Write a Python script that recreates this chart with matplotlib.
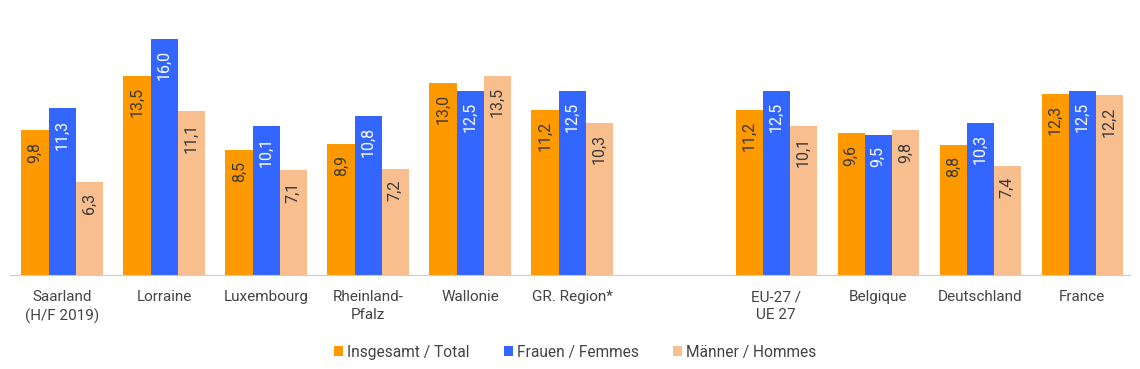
import numpy as np
import matplotlib.pyplot as plt

plt.rcParams['font.family'] = ['Roboto', 'DejaVu Sans']

# data
categories = ['Saarland\n(H/F 2019)', 'Lorraine', 'Luxembourg', 'Rheinland-\nPfalz', 'Wallonie',
              'GR. Region*', '', 'EU-27 /\nUE 27', 'Belgique', 'Deutschland', 'France']
total = [9.8, 13.5, 8.5, 8.9, 13.0, 11.2, None, 11.2, 9.6, 8.8, 12.3]
frauen = [11.3, 16.0, 10.1, 10.8, 12.5, 12.5, None, 12.5, 9.5, 10.3, 12.5]
maenner = [6.3, 11.1, 7.1, 7.2, 13.5, 10.3, None, 10.1, 9.8, 7.4, 12.2]
series_names = ['Insgesamt / Total', 'Frauen / Femmes', 'Männer / Hommes']
colors = ['#ff9900', '#3366ff', '#f9be8e']
label_colors = ['#3a3a3a', 'white', '#3a3a3a']

fig = plt.figure(figsize=(11.4, 3.69), dpi=100)
ax = fig.add_axes([10 / 1140, 94 / 369, 1120 / 1140, 236 / 369])

x = np.arange(len(categories))
w = 0.265
for k, vals in enumerate([total, frauen, maenner]):
    idx = [i for i, v in enumerate(vals) if v is not None]
    hv = [vals[i] for i in idx]
    pos = x[idx] + (k - 1) * w
    ax.bar(pos, hv, width=w, color=colors[k], label=series_names[k])
    for p, v in zip(pos, hv):
        ax.annotate(f'{v:.1f}'.replace('.', ','), (p, v), xytext=(0, -8),
                    textcoords='offset points', rotation=90, ha='center', va='top',
                    fontsize=11.5, color=label_colors[k])

ax.set_xlim(-0.51, 10.47)
ax.set_ylim(0, 16)
ax.set_xticks(x)
ax.set_xticklabels(categories, fontsize=11, color='#444444', linespacing=1.35)
ax.tick_params(axis='x', length=0, pad=11)
ax.set_yticks([])
for s in ['top', 'right', 'left']:
    ax.spines[s].set_visible(False)
ax.spines['bottom'].set_color('#cccccc')

leg = fig.legend(loc='center', bbox_to_anchor=(575 / 1140, 1 - 352 / 369), ncol=3,
                 frameon=False, fontsize=11.2, handlelength=0.6, handleheight=0.6,
                 handletextpad=0.25, columnspacing=2.2)
for t in leg.get_texts():
    t.set_color('#444444')

fig.savefig('out.png', dpi=100)
